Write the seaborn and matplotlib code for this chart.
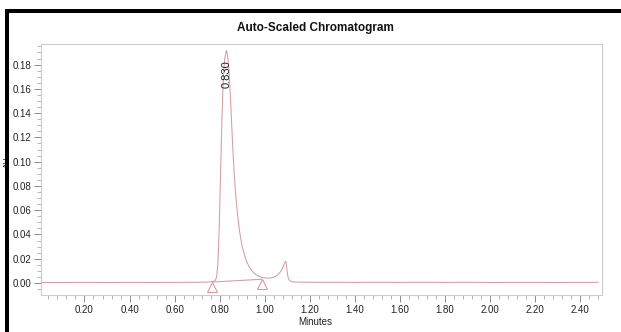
import matplotlib
matplotlib.use("Agg")
import matplotlib.pyplot as plt
import seaborn as sns
import pandas as pd
from matplotlib.ticker import MultipleLocator, AutoMinorLocator, FuncFormatter
from matplotlib.patches import Rectangle

# ---- data ----
minutes = [0.010, 0.100, 0.200, 0.300, 0.400, 0.500, 0.600, 0.700, 0.750, 0.770,
           0.780, 0.786, 0.792, 0.798, 0.804, 0.810, 0.816, 0.822, 0.828, 0.830,
           0.834, 0.840, 0.846, 0.852, 0.858, 0.864, 0.870, 0.878, 0.888, 0.900,
           0.915, 0.930, 0.950, 0.970, 0.990, 1.010, 1.030, 1.045, 1.060, 1.072,
           1.082, 1.090, 1.094, 1.098, 1.103, 1.110, 1.120, 1.150, 1.200, 1.300,
           1.400, 1.500, 1.600, 1.700, 1.800, 1.900, 2.000, 2.100, 2.200, 2.300,
           2.400, 2.480]
absorbance = [0.0004, 0.0004, 0.0005, 0.0004, 0.0005, 0.0004, 0.0005, 0.0006, 0.0008, 0.0012,
              0.0020, 0.0045, 0.0150, 0.0450, 0.0900, 0.1350, 0.1680, 0.1840, 0.1905, 0.1915,
              0.1890, 0.1790, 0.1600, 0.1360, 0.1120, 0.0920, 0.0750, 0.0590, 0.0430, 0.0300,
              0.0200, 0.0135, 0.0085, 0.0058, 0.0045, 0.0040, 0.0042, 0.0052, 0.0070, 0.0098,
              0.0135, 0.0170, 0.0178, 0.0120, 0.0050, 0.0020, 0.0010, 0.0007, 0.0006, 0.0006,
              0.0005, 0.0006, 0.0005, 0.0006, 0.0005, 0.0006, 0.0004, 0.0005, 0.0005, 0.0004,
              0.0005, 0.0005]

baseline_t = [0.767, 0.989]
baseline_y = [0.0008, 0.0031]
marker_t = [0.767, 0.989]
marker_y = [-0.0030, -0.0010]

peak_time = 0.830
peak_label = "0.830"
peak_label_y = 0.172

title = "Auto-Scaled Chromatogram"
x_label = "Minutes"
y_label = "AU"

line_color = "#d39ca2"

sns.set_theme(style="white")
plt.rcParams["font.family"] = ["Liberation Sans", "DejaVu Sans"]

fig = plt.figure(figsize=(6.21, 3.32), dpi=100)
ax = fig.add_axes([41 / 621, 1 - 295 / 332, (602 - 41) / 621, (295 - 44) / 332])

df = pd.DataFrame({"t": minutes, "au": absorbance})
sns.lineplot(data=df, x="t", y="au", ax=ax, color=line_color, linewidth=0.75)
sns.lineplot(x=baseline_t, y=baseline_y, ax=ax, color=line_color, linewidth=0.75)
ax.plot(marker_t, marker_y, linestyle="none", marker="^", markersize=7,
        markerfacecolor="white", markeredgecolor=line_color, markeredgewidth=0.8)

ax.text(peak_time, peak_label_y, peak_label, rotation=90, ha="center", va="center",
        fontsize=8, color="#222222")

ax.set_xlim(0.007, 2.497)
ax.set_ylim(-0.0099, 0.197)
ax.xaxis.set_major_locator(MultipleLocator(0.2))
ax.xaxis.set_minor_locator(MultipleLocator(0.04))
ax.yaxis.set_major_locator(MultipleLocator(0.02))
ax.yaxis.set_minor_locator(AutoMinorLocator(4))
ax.xaxis.set_major_formatter(FuncFormatter(lambda v, p: f"{v:.2f}" if v > 0.1 else ""))
ax.yaxis.set_major_formatter(FuncFormatter(lambda v, p: f"{v:.2f}"))

ax.tick_params(axis="both", which="major", direction="out", length=5, width=0.6,
               color="#777777", labelsize=7, labelcolor="#222222", pad=2,
               bottom=True, left=True)
ax.tick_params(axis="both", which="minor", direction="out", length=3, width=0.5,
               color="#999999", bottom=True, left=True)

for s in ax.spines.values():
    s.set_color("#cccccc")
    s.set_linewidth(0.8)

ax.set_xlabel("")
ax.set_ylabel("")
fig.text(315 / 621, 1 - 322 / 332, x_label, ha="center", va="center", fontsize=7, color="#222222")
fig.text(315 / 621, 1 - 28 / 332, title, ha="center", va="center", fontsize=8.5,
         fontweight="bold", color="#111111")
fig.text(7 / 621, 1 - 162 / 332, y_label, rotation=90, ha="center", va="center",
         fontsize=6, color="#222222", zorder=1)

# black frame (top and left)
fig.add_artist(Rectangle((5 / 621, 1 - 13 / 332), 1 - 5 / 621, 3.5 / 332,
                         transform=fig.transFigure, facecolor="black", edgecolor="none", zorder=10))
fig.add_artist(Rectangle((5 / 621, 0), 4 / 621, 1 - 10 / 332,
                         transform=fig.transFigure, facecolor="black", edgecolor="none", zorder=10))

fig.savefig("out.png", dpi=100)
